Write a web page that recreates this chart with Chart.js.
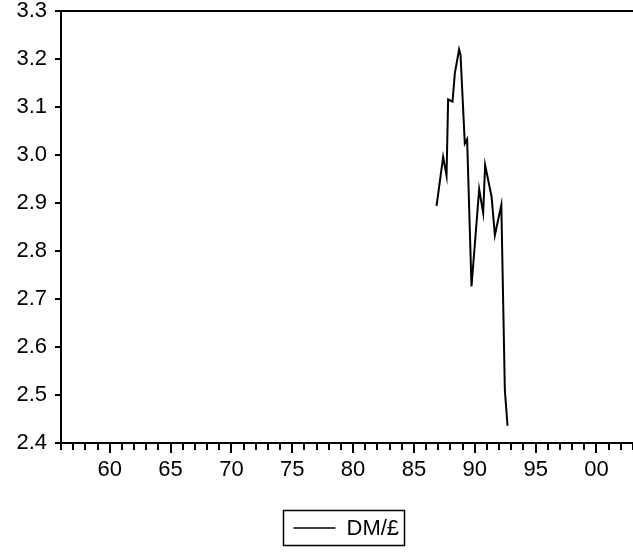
<!DOCTYPE html>
<html>
<head>
<meta charset="utf-8">
<script src="https://cdn.jsdelivr.net/npm/chart.js@4.4.0/dist/chart.umd.min.js"></script>
<style>
  html, body { margin: 0; padding: 0; background: #fff; }
  canvas { display: block; }
</style>
</head>
<body>
<canvas id="chart" width="633" height="556"></canvas>
<script>
// DM per pound (x as decimal years)
const years = [1986.86, 1987.40, 1987.68, 1987.81, 1988.17, 1988.36, 1988.71, 1988.83,
               1989.18, 1989.37, 1989.73, 1990.36, 1990.69, 1990.85, 1991.38, 1991.65,
               1992.18, 1992.47, 1992.69];
const rates = [2.894, 2.996, 2.957, 3.116, 3.111, 3.170, 3.220, 3.208,
               3.024, 3.033, 2.726, 2.929, 2.879, 2.979, 2.913, 2.833,
               2.896, 2.510, 2.436];
const seriesLabel = 'DM/£';

// axis range and labelled ticks
const xMin = 1956;
const xMax = 2003;
const xTickYears = [1960, 1965, 1970, 1975, 1980, 1985, 1990, 1995, 2000];
const yTicks = [2.4, 2.5, 2.6, 2.7, 2.8, 2.9, 3.0, 3.1, 3.2, 3.3];

const fontFamily = '"Liberation Sans", Arial, sans-serif';
const fontSize = 22;

// top frame line + yearly minor ticks on the x axis
const frameTicks = {
  id: 'frameTicks',
  afterDraw(chart) {
    const ctx = chart.ctx;
    const area = chart.chartArea;
    const xs = chart.scales.x;
    ctx.save();
    ctx.strokeStyle = '#000';
    ctx.lineWidth = 2;
    ctx.beginPath();
    ctx.moveTo(area.left, area.top);
    ctx.lineTo(area.right, area.top);
    for (let yr = xMin; yr <= xMax; yr++) {
      const px = Math.round(xs.getPixelForValue(yr));
      const len = yr % 5 === 0 ? 10 : 7;
      ctx.moveTo(px, area.bottom);
      ctx.lineTo(px, area.bottom + len);
    }
    ctx.stroke();
    ctx.restore();
  }
};

// boxed legend under the axis
const boxLegend = {
  id: 'boxLegend',
  afterDraw(chart) {
    const ctx = chart.ctx;
    const area = chart.chartArea;
    ctx.save();
    ctx.font = fontSize + 'px ' + fontFamily;
    const textW = ctx.measureText(seriesLabel).width;
    const lineW = 42, padL = 10, gap = 11, padR = 5;
    const boxW = Math.round(padL + lineW + gap + textW + padR);
    const boxH = 35;
    const left = Math.round((area.left + area.right) / 2 - boxW / 2 - 4) + 0.5;
    const top = Math.round(area.bottom + 67) + 0.5;
    ctx.strokeStyle = '#000';
    ctx.lineWidth = 1.5;
    ctx.strokeRect(left, top, boxW, boxH);
    ctx.beginPath();
    ctx.moveTo(left + padL, top + boxH / 2);
    ctx.lineTo(left + padL + lineW, top + boxH / 2);
    ctx.stroke();
    ctx.fillStyle = '#000';
    ctx.textBaseline = 'middle';
    ctx.fillText(seriesLabel, left + padL + lineW + gap, top + boxH / 2 + 1);
    ctx.restore();
  }
};

new Chart(document.getElementById('chart'), {
  type: 'line',
  data: {
    datasets: [{
      label: seriesLabel,
      data: years.map((x, i) => ({ x: x, y: rates[i] })),
      borderColor: '#000',
      borderWidth: 2,
      pointRadius: 0,
      tension: 0,
      fill: false
    }]
  },
  options: {
    responsive: false,
    animation: false,
    devicePixelRatio: 1,
    layout: { padding: 0 },
    plugins: { legend: { display: false }, tooltip: { enabled: false } },
    scales: {
      x: {
        type: 'linear',
        position: 'bottom',
        min: xMin,
        max: xMax,
        afterBuildTicks: (scale) => { scale.ticks = xTickYears.map(v => ({ value: v })); },
        afterFit: (scale) => { scale.height = 113; scale.paddingLeft = 0; scale.paddingRight = 0; },
        grid: { display: true, drawOnChartArea: false, drawTicks: false },
        border: { color: '#000', width: 2 },
        ticks: {
          padding: 14,
          color: '#000',
          maxRotation: 0,
          autoSkip: false,
          font: { family: fontFamily, size: fontSize },
          callback: (v) => String(v % 100).padStart(2, '0')
        }
      },
      y: {
        position: 'left',
        min: 2.4,
        max: 3.3,
        afterBuildTicks: (scale) => { scale.ticks = yTicks.map(v => ({ value: v })); },
        afterFit: (scale) => { scale.width = 61; scale.paddingTop = 11; scale.paddingBottom = 0; },
        grid: { drawOnChartArea: false, drawTicks: true, tickLength: 6, color: '#000', lineWidth: 2 },
        border: { color: '#000', width: 2 },
        ticks: {
          padding: 8,
          color: '#000',
          font: { family: fontFamily, size: fontSize },
          callback: (v) => v.toFixed(1)
        }
      }
    }
  },
  plugins: [frameTicks, boxLegend]
});
</script>
</body>
</html>
